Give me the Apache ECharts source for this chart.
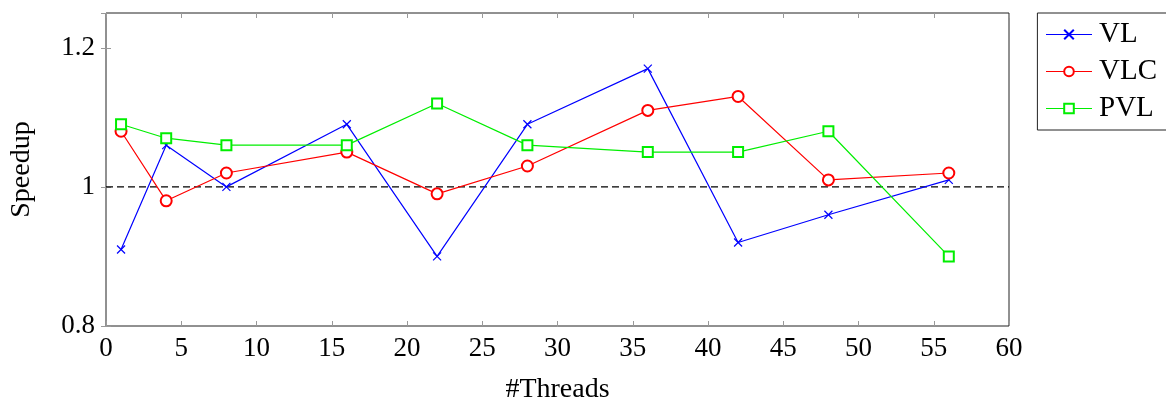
<!DOCTYPE html>
<html>
<head>
<meta charset="utf-8">
<script src="https://cdn.jsdelivr.net/npm/echarts@6/dist/echarts.min.js"></script>
<style>
  html, body { margin: 0; padding: 0; background: #fff; }
  #chart { width: 1166px; height: 405px; }
</style>
</head>
<body>
<div id="chart"></div>
<script>
// Thread counts and measured speedups per variant
const threads = [1, 4, 8, 16, 22, 28, 36, 42, 48, 56];
const vl  = [0.91, 1.06, 1.00, 1.09, 0.90, 1.09, 1.17, 0.92, 0.96, 1.01];
const vlc = [1.08, 0.98, 1.02, 1.05, 0.99, 1.03, 1.11, 1.13, 1.01, 1.02];
const pvl = [1.09, 1.07, 1.06, 1.06, 1.12, 1.06, 1.05, 1.05, 1.08, 0.90];
// Reference speedup of 1 spanning the x range
const baselineX = [0, 60];
const baselineY = 1;

const FONT = '"Liberation Serif", "DejaVu Serif", serif';
const pairs = ys => threads.map((t, i) => [t, ys[i]]);
const crossPath = 'path://M0,0L10,10M10,0L0,10';

const tickStyle = { show: true, inside: true, length: 5, lineStyle: { color: '#999', width: 1 } };

const chart = echarts.init(document.getElementById('chart'));
chart.setOption({
  animation: false,
  backgroundColor: '#fff',
  textStyle: { fontFamily: FONT },
  grid: {
    left: 106, right: 157, top: 13, bottom: 79,
    outerBoundsMode: 'none', containLabel: false,
    show: true, borderColor: '#222', borderWidth: 1
  },
  legend: {
    right: -4, top: 13,
    orient: 'vertical',
    borderColor: '#222', borderWidth: 1,
    padding: [7, 13, 7, 8],
    itemGap: 8,
    itemWidth: 46, itemHeight: 12,
    lineStyle: { width: 1.2 },
    textStyle: { fontFamily: FONT, fontSize: 29, color: '#000', padding: [0, 0, 0, 2] },
    data: ['VL', 'VLC', 'PVL']
  },
  xAxis: [{
    type: 'value', min: 0, max: 60, interval: 5,
    name: '#Threads', nameLocation: 'middle', nameGap: 50,
    nameTextStyle: { fontFamily: FONT, fontSize: 28, color: '#000' },
    axisLine: { show: false },
    axisTick: tickStyle,
    axisLabel: { fontFamily: FONT, fontSize: 27, color: '#000', margin: 9 },
    splitLine: { show: false }
  }, {
    type: 'value', position: 'top', min: 0, max: 60, interval: 5,
    axisLine: { show: false }, axisTick: tickStyle, axisLabel: { show: false }, splitLine: { show: false }
  }],
  yAxis: [{
    type: 'value', min: 0.8, max: 1.25, interval: 0.2,
    name: 'Speedup', nameLocation: 'middle', nameGap: 70, nameRotate: 90,
    nameTextStyle: { fontFamily: FONT, fontSize: 28, color: '#000' },
    axisLine: { show: false },
    axisTick: tickStyle,
    axisLabel: {
      fontFamily: FONT, fontSize: 27, color: '#000', margin: 11,
      formatter: v => (Math.abs(v - 1) < 1e-9 ? '1' : String(Math.round(v * 10) / 10)),
      showMaxLabel: false
    },
    splitLine: { show: false }
  }, {
    type: 'value', position: 'right', min: 0.8, max: 1.25, interval: 0.2,
    axisLine: { show: false }, axisTick: tickStyle, axisLabel: { show: false }, splitLine: { show: false }
  }],
  series: [
    {
      name: 'baseline', type: 'line', silent: true,
      data: baselineX.map(x => [x, baselineY]),
      symbol: 'none',
      lineStyle: { color: '#000', width: 1.3, type: [7, 4] },
      z: 1
    },
    {
      name: 'VL', type: 'line', data: pairs(vl),
      symbol: crossPath, symbolSize: 8,
      color: '#0000ff',
      lineStyle: { color: '#0000ff', width: 1.2 },
      itemStyle: { color: 'rgba(0,0,0,0)', borderColor: '#0000ff', borderWidth: 1.2 },
      z: 3
    },
    {
      name: 'VLC', type: 'line', data: pairs(vlc),
      symbol: 'emptyCircle', symbolSize: 11,
      color: '#ff0000',
      lineStyle: { color: '#ff0000', width: 1.2 },
      itemStyle: { color: '#ff0000', borderColor: '#ff0000', borderWidth: 1 },
      z: 3
    },
    {
      name: 'PVL', type: 'line', data: pairs(pvl),
      symbol: 'emptyRect', symbolSize: 10,
      color: '#00ee00',
      lineStyle: { color: '#00ee00', width: 1.2 },
      itemStyle: { color: '#00ee00', borderColor: '#00ee00', borderWidth: 1 },
      z: 3
    }
  ]
});
</script>
</body>
</html>
